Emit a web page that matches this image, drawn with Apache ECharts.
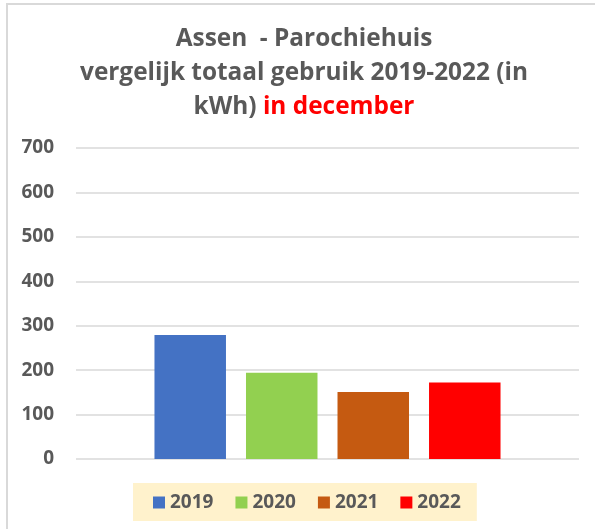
<!DOCTYPE html>
<html>
<head>
<meta charset="utf-8">
<script src="https://cdn.jsdelivr.net/npm/echarts@6/dist/echarts.min.js"></script>
<style>
  body { margin: 0; background: #fff; }
  #wrap { position: relative; width: 595px; height: 529px; }
  #main { position: absolute; left: 0; top: 0; width: 595px; height: 529px; }
  #frame { position: absolute; left: 6px; top: 3px; width: 620px; height: 560px;
           border-left: 2px solid #d9d9d9; border-top: 2px solid #d9d9d9; pointer-events: none; }
</style>
</head>
<body>
<div id="wrap">
  <div id="frame"></div>
  <div id="main"></div>
</div>
<script type="text/javascript">
    // data
    var years = ['2019', '2020', '2021', '2022'];
    var usage = [279, 194, 151, 172];
    var yTicks = [0, 100, 200, 300, 400, 500, 600, 700];
    var barColors = ['#4472C4', '#92D050', '#C55A11', '#FF0000'];

    var font = '"Open Sans", "Noto Sans", sans-serif';
    var myChart = echarts.init(document.getElementById('main'));

    // one category, one series per year (clustered like Excel)
    var series = years.map(function (y, i) {
        return {
            name: y,
            type: 'bar',
            data: [usage[i]],
            barWidth: 71.5,
            barGap: '28%',
            itemStyle: { color: barColors[i] }
        };
    });

    var option = {
        animation: false,
        title: {
            left: 304,
            top: 22,
            padding: 0,
            textAlign: 'center',
            text: '{a|Assen  - Parochiehuis}\n{a|vergelijk totaal gebruik 2019-2022 (in}\n{a|kWh) }{r|in december}',
            textStyle: {
                rich: {
                    a: { fontFamily: font, fontWeight: 'bold', fontSize: 24.4, color: '#595959', lineHeight: 34 },
                    r: { fontFamily: font, fontWeight: 'bold', fontSize: 24.4, color: '#FF0000', lineHeight: 34 }
                }
            }
        },
        grid: {
            left: 76,
            right: 16,
            top: 148,
            bottom: 70
        },
        legend: {
            data: years,
            left: 133,
            top: 483,
            icon: 'rect',
            itemWidth: 12,
            itemHeight: 12,
            itemGap: 22,
            padding: [10, 16, 9, 20],
            backgroundColor: '#FFF2CC',
            textStyle: { fontFamily: font, fontWeight: 'bold', fontSize: 19, color: '#595959' }
        },
        xAxis: {
            type: 'category',
            data: [''],
            axisLine: { show: false },
            axisTick: { show: false },
            axisLabel: { show: false }
        },
        yAxis: {
            type: 'value',
            min: yTicks[0],
            max: yTicks[yTicks.length - 1],
            interval: 100,
            axisLine: { show: false },
            axisTick: { show: false },
            axisLabel: {
                margin: 22,
                fontFamily: font,
                fontWeight: 'bold',
                fontSize: 19,
                color: '#595959'
            },
            splitLine: { lineStyle: { color: '#d9d9d9', width: 1.5 } }
        },
        series: series
    };
    myChart.setOption(option);
</script>
</body>
</html>
